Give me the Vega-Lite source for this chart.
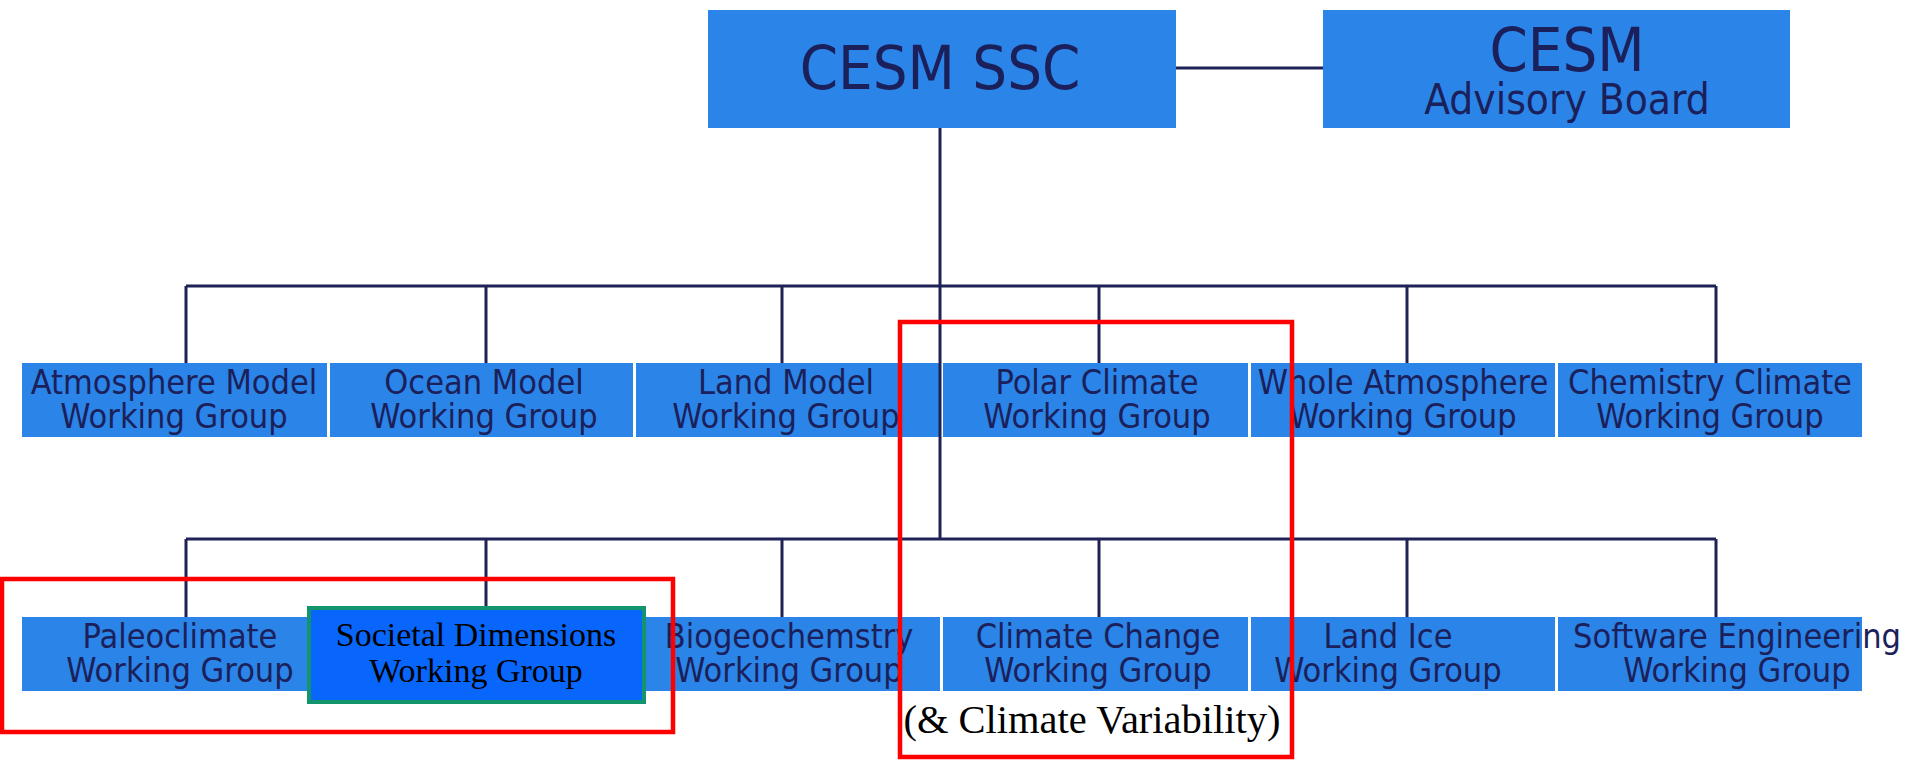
{
  "$schema": "https://vega.github.io/schema/vega-lite/v6.json",
  "width": 1915,
  "height": 761,
  "autosize": "none",
  "padding": 0,
  "background": "white",
  "config": {"view": {"stroke": null}},
  "datasets": {
    "boxes": [
      {"name": "CESM SSC", "x1": 708, "x2": 1176, "y1": 10, "y2": 128},
      {"name": "CESM Advisory Board", "x1": 1323, "x2": 1790, "y1": 10, "y2": 128},
      {"name": "Atmosphere Model", "x1": 22, "x2": 327, "y1": 363, "y2": 437},
      {"name": "Ocean Model", "x1": 330, "x2": 633, "y1": 363, "y2": 437},
      {"name": "Land Model", "x1": 636, "x2": 940, "y1": 363, "y2": 437},
      {"name": "Polar Climate", "x1": 943, "x2": 1248, "y1": 363, "y2": 437},
      {"name": "Whole Atmosphere", "x1": 1251, "x2": 1555, "y1": 363, "y2": 437},
      {"name": "Chemistry Climate", "x1": 1558, "x2": 1862, "y1": 363, "y2": 437},
      {"name": "Paleoclimate", "x1": 22, "x2": 327, "y1": 617, "y2": 691},
      {"name": "Societal Dimensions (under)", "x1": 330, "x2": 633, "y1": 617, "y2": 691},
      {"name": "Biogeochemstry", "x1": 636, "x2": 940, "y1": 617, "y2": 691},
      {"name": "Climate Change", "x1": 943, "x2": 1248, "y1": 617, "y2": 691},
      {"name": "Land Ice", "x1": 1251, "x2": 1555, "y1": 617, "y2": 691},
      {"name": "Software Engineering", "x1": 1558, "x2": 1862, "y1": 617, "y2": 691}
    ],
    "links": [
      {"x1": 1176, "x2": 1323, "y1": 68, "y2": 68},
      {"x1": 940, "x2": 940, "y1": 128, "y2": 539},
      {"x1": 186, "x2": 1716, "y1": 286, "y2": 286},
      {"x1": 186, "x2": 186, "y1": 286, "y2": 363},
      {"x1": 486, "x2": 486, "y1": 286, "y2": 363},
      {"x1": 782, "x2": 782, "y1": 286, "y2": 363},
      {"x1": 1099, "x2": 1099, "y1": 286, "y2": 363},
      {"x1": 1407, "x2": 1407, "y1": 286, "y2": 363},
      {"x1": 1716, "x2": 1716, "y1": 286, "y2": 363},
      {"x1": 186, "x2": 1716, "y1": 539, "y2": 539},
      {"x1": 186, "x2": 186, "y1": 539, "y2": 617},
      {"x1": 486, "x2": 486, "y1": 539, "y2": 608},
      {"x1": 782, "x2": 782, "y1": 539, "y2": 617},
      {"x1": 1099, "x2": 1099, "y1": 539, "y2": 617},
      {"x1": 1407, "x2": 1407, "y1": 539, "y2": 617},
      {"x1": 1716, "x2": 1716, "y1": 539, "y2": 617}
    ],
    "societal": [
      {"name": "Societal Dimensions", "x1": 309, "x2": 644, "y1": 608, "y2": 702, "cx": 476, "cy": 654, "label": ["Societal Dimensions", "Working Group"]}
    ],
    "frames": [
      {"x1": 2, "x2": 673, "y1": 579, "y2": 732},
      {"x1": 900, "x2": 1292, "y1": 322, "y2": 757}
    ],
    "bigTitles": [
      {"cx": 940, "cy": 71, "label": "CESM SSC"},
      {"cx": 1567, "cy": 53, "label": "CESM"}
    ],
    "subTitles": [
      {"cx": 1567, "cy": 101, "label": "Advisory Board"}
    ],
    "wg": [
      {"cx": 174, "cy": 400, "label": ["Atmosphere Model", "Working Group"]},
      {"cx": 484, "cy": 400, "label": ["Ocean Model", "Working Group"]},
      {"cx": 786, "cy": 400, "label": ["Land Model", "Working Group"]},
      {"cx": 1097, "cy": 400, "label": ["Polar Climate", "Working Group"]},
      {"cx": 1403, "cy": 400, "label": ["Whole Atmosphere", "Working Group"]},
      {"cx": 1710, "cy": 400, "label": ["Chemistry Climate", "Working Group"]},
      {"cx": 180, "cy": 654, "label": ["Paleoclimate", "Working Group"]},
      {"cx": 789, "cy": 654, "label": ["Biogeochemstry", "Working Group"]},
      {"cx": 1098, "cy": 654, "label": ["Climate Change", "Working Group"]},
      {"cx": 1388, "cy": 654, "label": ["Land Ice", "Working Group"]},
      {"cx": 1737, "cy": 654, "label": ["Software Engineering", "Working Group"]}
    ],
    "notes": [
      {"cx": 1092, "cy": 721, "label": "(& Climate Variability)"}
    ]
  },
  "layer": [
    {
      "data": {"name": "boxes"},
      "mark": {"type": "rect", "fill": "#2b84e8"},
      "encoding": {
        "x": {"field": "x1", "type": "quantitative", "scale": {"domain": [0, 1915], "nice": false, "zero": false}, "axis": null},
        "x2": {"field": "x2"},
        "y": {"field": "y1", "type": "quantitative", "scale": {"domain": [0, 761], "nice": false, "zero": false, "reverse": true}, "axis": null},
        "y2": {"field": "y2"}
      }
    },
    {
      "data": {"name": "links"},
      "mark": {"type": "rule", "stroke": "#1e2256", "strokeWidth": 3},
      "encoding": {
        "x": {"field": "x1", "type": "quantitative"},
        "x2": {"field": "x2"},
        "y": {"field": "y1", "type": "quantitative"},
        "y2": {"field": "y2"}
      }
    },
    {
      "data": {"name": "societal"},
      "mark": {"type": "rect", "fill": "#0866fc", "stroke": "#12956c", "strokeWidth": 4},
      "encoding": {
        "x": {"field": "x1", "type": "quantitative"},
        "x2": {"field": "x2"},
        "y": {"field": "y1", "type": "quantitative"},
        "y2": {"field": "y2"}
      }
    },
    {
      "data": {"name": "bigTitles"},
      "mark": {"type": "text", "font": "DejaVu Sans Condensed, Liberation Sans, sans-serif", "fontSize": 61, "fill": "#1b1f5a", "align": "center", "baseline": "middle"},
      "encoding": {
        "x": {"field": "cx", "type": "quantitative"},
        "y": {"field": "cy", "type": "quantitative"},
        "text": {"field": "label", "type": "nominal"}
      }
    },
    {
      "data": {"name": "subTitles"},
      "mark": {"type": "text", "font": "DejaVu Sans Condensed, Liberation Sans, sans-serif", "fontSize": 42, "fill": "#1b1f5a", "align": "center", "baseline": "middle"},
      "encoding": {
        "x": {"field": "cx", "type": "quantitative"},
        "y": {"field": "cy", "type": "quantitative"},
        "text": {"field": "label", "type": "nominal"}
      }
    },
    {
      "data": {"name": "wg"},
      "mark": {"type": "text", "font": "DejaVu Sans Condensed, Liberation Sans, sans-serif", "fontSize": 34, "lineHeight": 34, "dy": -16, "fill": "#1b1f5a", "align": "center", "baseline": "middle"},
      "encoding": {
        "x": {"field": "cx", "type": "quantitative"},
        "y": {"field": "cy", "type": "quantitative"},
        "text": {"field": "label", "type": "nominal"}
      }
    },
    {
      "data": {"name": "societal"},
      "mark": {"type": "text", "font": "Liberation Serif", "fontSize": 34, "lineHeight": 36, "dy": -18, "fill": "black", "align": "center", "baseline": "middle"},
      "encoding": {
        "x": {"field": "cx", "type": "quantitative"},
        "y": {"field": "cy", "type": "quantitative"},
        "text": {"field": "label", "type": "nominal"}
      }
    },
    {
      "data": {"name": "notes"},
      "mark": {"type": "text", "font": "Liberation Serif", "fontSize": 40.5, "fill": "black", "align": "center", "baseline": "middle"},
      "encoding": {
        "x": {"field": "cx", "type": "quantitative"},
        "y": {"field": "cy", "type": "quantitative"},
        "text": {"field": "label", "type": "nominal"}
      }
    },
    {
      "data": {"name": "frames"},
      "mark": {"type": "rect", "fill": null, "fillOpacity": 0, "stroke": "#ff0000", "strokeWidth": 4.5},
      "encoding": {
        "x": {"field": "x1", "type": "quantitative"},
        "x2": {"field": "x2"},
        "y": {"field": "y1", "type": "quantitative"},
        "y2": {"field": "y2"}
      }
    }
  ]
}
